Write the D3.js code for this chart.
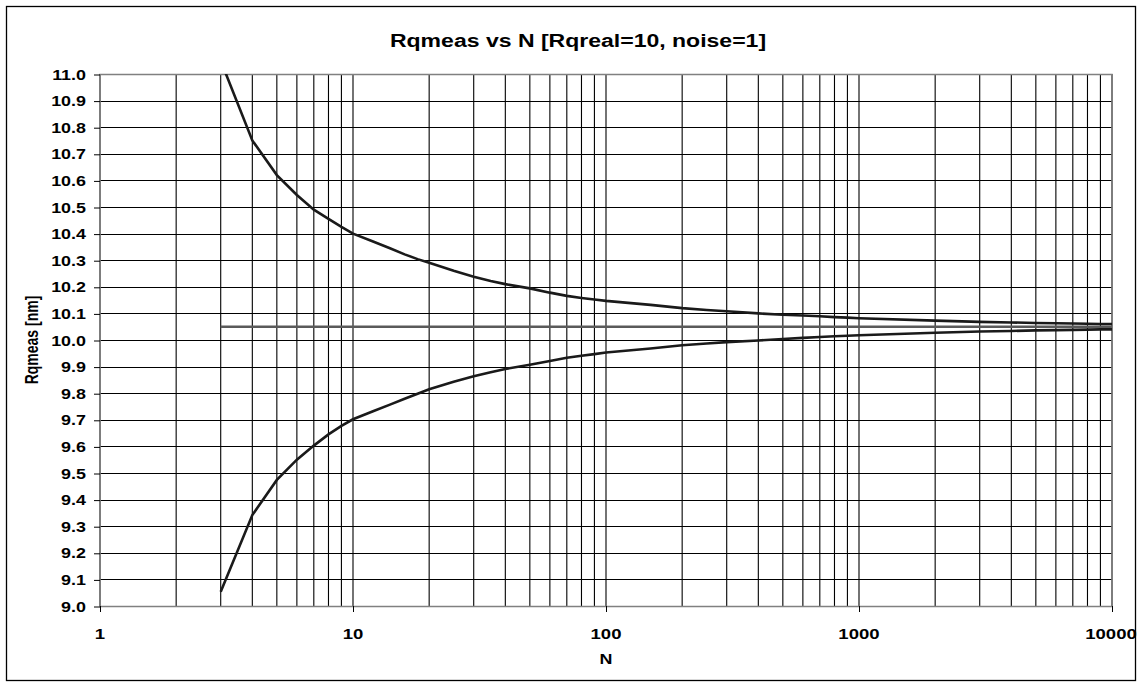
<!DOCTYPE html>
<html>
<head>
<meta charset="utf-8">
<script src="https://cdn.jsdelivr.net/npm/d3@7"></script>
<style>
  body { margin: 0; background: #fff; }
  text { font-family: "Liberation Sans", Arial, sans-serif; font-weight: bold; fill: #000; }
</style>
</head>
<body>
<svg id="chart" width="1142" height="687"></svg>
<script>
// N values (sample points of the curves)
var nValues = [3, 4, 5, 6, 7, 8, 9, 10, 12, 14, 16, 18,
    20, 25, 30, 35, 40, 50, 60, 70, 80, 90, 100, 150,
    200, 250, 300, 400, 500, 600, 700, 800, 900, 1000,
    2000, 3000, 4000, 5000, 6000, 7000, 8000, 9000, 10000];

// upper bound of Rqmeas
var upperValues = [11.05, 10.75, 10.62, 10.545, 10.49, 10.455, 10.425, 10.40, 10.37, 10.345, 10.322, 10.304,
    10.29, 10.26, 10.238, 10.222, 10.21, 10.194, 10.178, 10.166, 10.158, 10.152, 10.147, 10.132,
    10.12, 10.113, 10.108, 10.10, 10.095, 10.092, 10.089, 10.086, 10.084, 10.082,
    10.073, 10.068, 10.066, 10.064, 10.063, 10.062, 10.061, 10.06, 10.06];

// lower bound of Rqmeas
var lowerValues = [9.054, 9.342, 9.474, 9.55, 9.603, 9.645, 9.677, 9.702, 9.732, 9.757, 9.779, 9.798,
    9.815, 9.843, 9.864, 9.879, 9.891, 9.907, 9.921, 9.933, 9.941, 9.947, 9.953, 9.968,
    9.98, 9.987, 9.992, 9.998, 10.004, 10.008, 10.011, 10.014, 10.016, 10.018,
    10.027, 10.032, 10.034, 10.036, 10.037, 10.038, 10.039, 10.04, 10.04];

// mean Rqmeas (flat)
var meanValues = nValues.map(function(){ return 10.05; });

var xTickLabels = [1, 10, 100, 1000, 10000];
var yTickLabels = ['9.0','9.1','9.2','9.3','9.4','9.5','9.6','9.7','9.8','9.9','10.0',
    '10.1','10.2','10.3','10.4','10.5','10.6','10.7','10.8','10.9','11.0'];

var svg = d3.select('#chart');
var plotL = 100, plotR = 1112, plotT = 74, plotB = 606;
var stretch = 1.28; // the original text is drawn wide

var x = d3.scaleLog().domain([1, 10000]).range([plotL, plotR]);
var y = d3.scaleLinear().domain([9, 11]).range([plotB, plotT]);

// outer frame
svg.append('rect')
    .attr('x', 6.5).attr('y', 6.5)
    .attr('width', 1129).attr('height', 674)
    .style('fill', 'none').style('stroke', '#000').style('stroke-width', 1.3);

// title
svg.append('text')
    .attr('transform', 'translate(578,47) scale(' + stretch + ',1)')
    .attr('text-anchor', 'middle')
    .style('font-size', '18px')
    .text('Rqmeas vs N [Rqreal=10, noise=1]');

// horizontal grid
var yVals = yTickLabels.map(function(t){ return +t; });
svg.append('g').selectAll('line')
    .data(yVals)
    .enter().append('line')
    .attr('x1', plotL).attr('x2', plotR)
    .attr('y1', function(d){ return Math.round(y(d)) + 0.5; })
    .attr('y2', function(d){ return Math.round(y(d)) + 0.5; })
    .style('stroke', '#000').style('stroke-width', 1);

// vertical grid (all log ticks 1..10000)
var xGrid = x.ticks();
svg.append('g').selectAll('line')
    .data(xGrid)
    .enter().append('line')
    .attr('x1', function(d){ return x(d); })
    .attr('x2', function(d){ return x(d); })
    .attr('y1', plotT).attr('y2', plotB)
    .style('stroke', '#000').style('stroke-width', 1.1);

// plot border
svg.append('rect')
    .attr('x', plotL).attr('y', plotT + 0.5)
    .attr('width', plotR - plotL).attr('height', plotB - plotT)
    .style('fill', 'none').style('stroke', '#808080').style('stroke-width', 1.5);

// y axis
var yAxis = d3.axisLeft(y).tickValues(yVals).tickSize(6).tickFormat('');
var gy = svg.append('g').attr('transform', 'translate(' + plotL + ',0.5)').call(yAxis);
gy.select('.domain').remove();
gy.selectAll('line').style('stroke', '#000');

svg.append('g').selectAll('text')
    .data(yTickLabels)
    .enter().append('text')
    .attr('transform', function(d){ return 'translate(86,' + (y(+d) + 5.5) + ') scale(' + stretch + ',1)'; })
    .attr('text-anchor', 'end')
    .style('font-size', '14px')
    .text(function(d){ return d; });

// x axis
var xAxis = d3.axisBottom(x).tickValues(xTickLabels).tickSize(6).tickFormat('');
var gx = svg.append('g').attr('transform', 'translate(0,' + plotB + ')').call(xAxis);
gx.select('.domain').remove();
gx.selectAll('line').style('stroke', '#000');

svg.append('g').selectAll('text')
    .data(xTickLabels)
    .enter().append('text')
    .attr('transform', function(d){ return 'translate(' + (d === 10000 ? x(d) - 1 : x(d)) + ',639) scale(' + stretch + ',1)'; })
    .attr('text-anchor', 'middle')
    .style('font-size', '14.5px')
    .text(function(d){ return d; });

// axis titles
svg.append('text')
    .attr('transform', 'translate(606,664) scale(' + stretch + ',1)')
    .attr('text-anchor', 'middle')
    .style('font-size', '14px')
    .text('N');

svg.append('text')
    .attr('transform', 'translate(38,340) rotate(-90) scale(1,' + stretch + ')')
    .attr('text-anchor', 'middle')
    .style('font-size', '14px')
    .text('Rqmeas [nm]');

// curves, clipped to the plot area
svg.append('clipPath').attr('id', 'plotclip')
    .append('rect').attr('x', plotL).attr('y', plotT).attr('width', plotR - plotL).attr('height', plotB - plotT);

var plot = svg.append('g').attr('clip-path', 'url(#plotclip)');

function series(vals){
    return nValues.map(function(n, i){ return [n, vals[i]]; });
}
var line = d3.line()
    .x(function(d){ return x(d[0]); })
    .y(function(d){ return y(d[1]); });

plot.append('path')
    .datum(series(meanValues))
    .attr('d', line)
    .style('fill', 'none').style('stroke', '#5a5a5a').style('stroke-width', 2.6);

plot.append('path')
    .datum(series(upperValues))
    .attr('d', line)
    .style('fill', 'none').style('stroke', '#1a1a1a').style('stroke-width', 2.6);

plot.append('path')
    .datum(series(lowerValues))
    .attr('d', line)
    .style('fill', 'none').style('stroke', '#1a1a1a').style('stroke-width', 2.6);
</script>
</body>
</html>
